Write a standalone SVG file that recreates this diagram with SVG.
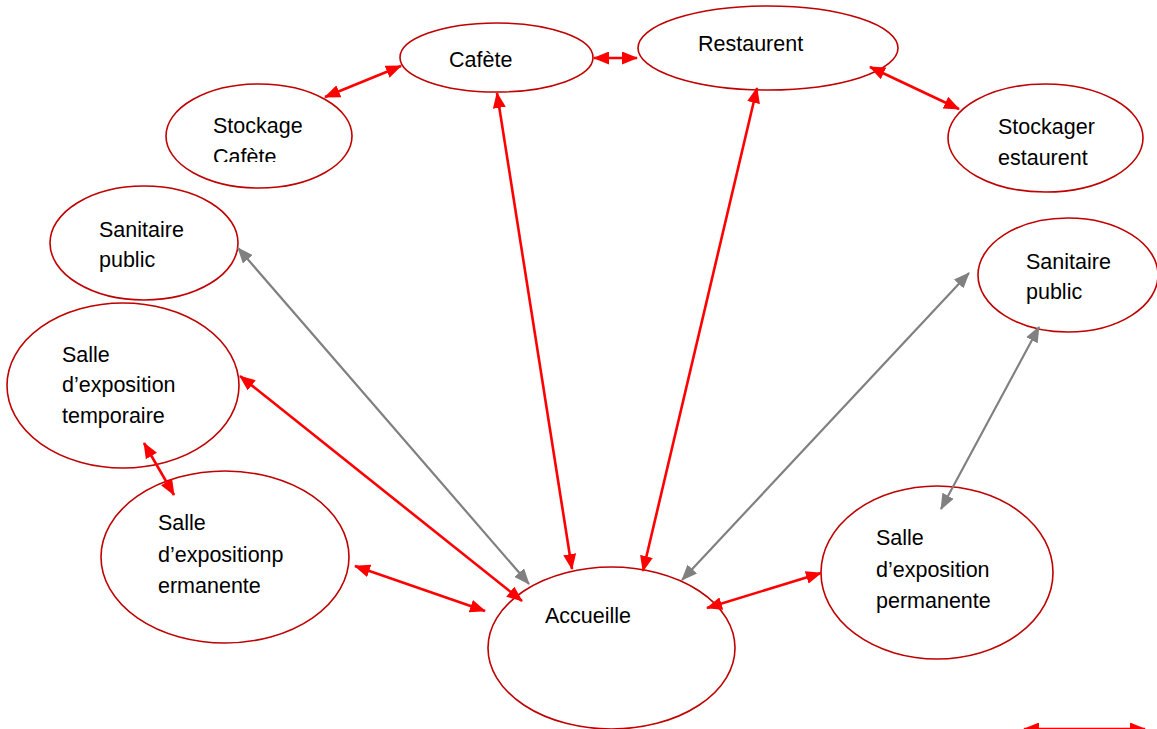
<svg xmlns="http://www.w3.org/2000/svg" width="1157" height="729" viewBox="0 0 1157 729">
<style>
.n{fill:#fff;stroke:#C00000;stroke-width:1.6}
.t{font-family:"Liberation Sans",Arial,sans-serif;font-size:21.5px;fill:#000}
.r{stroke:#FF0000;stroke-width:2.6;fill:none;marker-start:url(#ar);marker-end:url(#ar)}
.g{stroke:#808080;stroke-width:2.2;fill:none;marker-start:url(#ag);marker-end:url(#ag)}
</style>
<defs>
<marker id="ar" viewBox="0 0 16 13" markerWidth="16" markerHeight="13" refX="15" refY="6.5" orient="auto-start-reverse" markerUnits="userSpaceOnUse"><path d="M0,0 L16,6.5 L0,13 z" fill="#FF0000"/></marker>
<marker id="ag" viewBox="0 0 16 13" markerWidth="16" markerHeight="13" refX="15" refY="6.5" orient="auto-start-reverse" markerUnits="userSpaceOnUse"><path d="M0,0 L16,6.5 L0,13 z" fill="#808080"/></marker>
<clipPath id="clipSC"><rect x="160" y="80" width="200" height="82"/></clipPath>
</defs>
<rect width="1157" height="729" fill="#fff"/>
<g id="nodes">
<g id="stockage-cafete"><ellipse class="n" cx="259" cy="136" rx="93" ry="52"/><g clip-path="url(#clipSC)"><text class="t" x="213" y="133">Stockage</text><text class="t" x="213" y="164">Cafète</text></g></g>
<g id="cafete"><ellipse class="n" cx="496.5" cy="57.5" rx="96.5" ry="34.5"/><text class="t" x="449" y="67">Cafète</text></g>
<g id="restaurent"><ellipse class="n" cx="768" cy="48" rx="130" ry="42"/><text class="t" x="698" y="51">Restaurent</text></g>
<g id="stockager-estaurent"><ellipse class="n" cx="1045.5" cy="138" rx="97.5" ry="54"/><text class="t" x="998" y="134">Stockager</text><text class="t" x="998" y="165">estaurent</text></g>
<g id="sanitaire-left"><ellipse class="n" cx="144" cy="243" rx="94" ry="57"/><text class="t" x="99" y="237">Sanitaire</text><text class="t" x="99" y="267">public</text></g>
<g id="salle-temporaire"><ellipse class="n" cx="123" cy="385.5" rx="116" ry="82.5"/><text class="t" x="62" y="362">Salle</text><text class="t" x="62" y="392">d’exposition</text><text class="t" x="62" y="423">temporaire</text></g>
<g id="salle-permanente-left"><ellipse class="n" cx="225" cy="557" rx="124" ry="86"/><text class="t" x="158" y="530">Salle</text><text class="t" x="158" y="562">d’expositionp</text><text class="t" x="158" y="593">ermanente</text></g>
<g id="accueille"><ellipse class="n" cx="611.5" cy="648" rx="123.5" ry="81"/><text class="t" x="545" y="623">Accueille</text></g>
<g id="salle-permanente-right"><ellipse class="n" cx="937" cy="572.5" rx="116" ry="86.5"/><text class="t" x="876" y="545">Salle</text><text class="t" x="876" y="577">d’exposition</text><text class="t" x="876" y="608">permanente</text></g>
<g id="sanitaire-right"><ellipse class="n" cx="1068" cy="275" rx="90" ry="57"/><text class="t" x="1026" y="269">Sanitaire</text><text class="t" x="1026" y="299">public</text></g>
</g>
<g id="connectors">
<line class="r" x1="325" y1="97" x2="401" y2="66"/>
<line class="r" x1="594" y1="58" x2="637" y2="58"/>
<line class="r" x1="870" y1="67" x2="959" y2="109"/>
<line class="r" x1="497" y1="93" x2="572" y2="569"/>
<line class="r" x1="757" y1="88" x2="643" y2="571"/>
<line class="g" x1="238" y1="248" x2="529" y2="584"/>
<line class="r" x1="240" y1="376" x2="522" y2="601"/>
<line class="r" x1="144" y1="443" x2="174" y2="495"/>
<line class="r" x1="355" y1="566" x2="485" y2="611"/>
<line class="g" x1="682" y1="580" x2="969" y2="273"/>
<line class="g" x1="1039" y1="327" x2="941" y2="509"/>
<line class="r" x1="707" y1="608" x2="821" y2="573"/>
<line class="r" x1="1024" y1="729" x2="1145" y2="729"/>
</g>
</svg>
